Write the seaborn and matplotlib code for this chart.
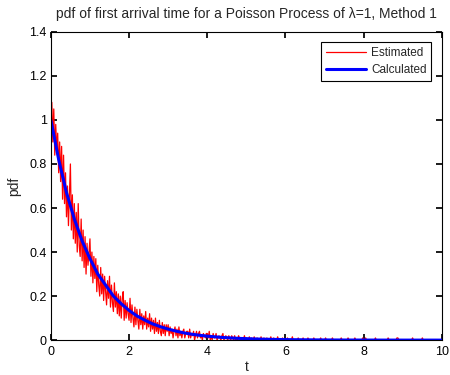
import matplotlib
matplotlib.use("Agg")
import matplotlib.pyplot as plt
import numpy as np
import seaborn as sns

RED = "#FF0000"
BLUE = "#0000FF"

# estimated pdf, one value every 0.025 from t=0 to t=10
est_pdf = [
    1.02, 1.08, 0.90, 1.05, 0.84, 0.98, 0.86, 0.94, 0.76, 0.90, 0.72, 0.88, 0.64, 0.84, 0.62, 0.76, 0.56, 0.70, 0.52, 0.66,
    0.80, 0.50, 0.66, 0.46, 0.62, 0.44, 0.58, 0.40, 0.62, 0.43, 0.38, 0.55, 0.36, 0.50, 0.33, 0.47, 0.30, 0.44, 0.34, 0.40,
    0.46, 0.29, 0.40, 0.26, 0.38, 0.28, 0.37, 0.22, 0.34, 0.25, 0.20, 0.33, 0.21, 0.30, 0.18, 0.29, 0.22, 0.16, 0.27, 0.19,
    0.29, 0.15, 0.25, 0.17, 0.13, 0.26, 0.15, 0.22, 0.12, 0.21, 0.11, 0.20, 0.10, 0.19, 0.22, 0.09, 0.18, 0.10, 0.17, 0.12,
    0.09, 0.19, 0.08, 0.16, 0.10, 0.06, 0.15, 0.07, 0.14, 0.09, 0.05, 0.14, 0.07, 0.12, 0.05, 0.11, 0.07, 0.13, 0.05, 0.10,
    0.06, 0.12, 0.04, 0.10, 0.05, 0.09, 0.03, 0.10, 0.04, 0.08, 0.03, 0.09, 0.04, 0.02, 0.08, 0.03, 0.07, 0.02, 0.07, 0.04,
    0.07, 0.02, 0.06, 0.03, 0.05, 0.01, 0.04, 0.06, 0.02, 0.05, 0.01, 0.06, 0.02, 0.04, 0.01, 0.04, 0.05, 0.01, 0.03, 0.04,
    0.04, 0.01, 0.05, 0.01, 0.03, 0.02, 0.04, 0.00, 0.02, 0.04, 0.01, 0.03, 0.04, 0.01, 0.02, 0.00, 0.03, 0.02, 0.01, 0.03,
    0.03, 0.01, 0.04, 0.00, 0.02, 0.00, 0.03, 0.01, 0.01, 0.03, 0.00, 0.01, 0.02, 0.01, 0.00, 0.02, 0.03, 0.00, 0.01, 0.02,
    0.01, 0.00, 0.02, 0.01, 0.00, 0.02, 0.01, 0.00, 0.02, 0.00, 0.01, 0.00, 0.02, 0.01, 0.00, 0.00, 0.01, 0.00, 0.02, 0.00,
    0.01, 0.00, 0.00, 0.015, 0.00, 0.01, 0.00, 0.00, 0.015, 0.00, 0.00, 0.01, 0.00, 0.00, 0.00, 0.015, 0.00, 0.00, 0.01, 0.00,
    0.00, 0.01, 0.00, 0.00, 0.00, 0.015, 0.00, 0.00, 0.01, 0.00, 0.00, 0.00, 0.015, 0.00, 0.00, 0.00, 0.00, 0.01, 0.00, 0.00,
    0.00, 0.00, 0.01, 0.00, 0.00, 0.00, 0.00, 0.015, 0.00, 0.00, 0.00, 0.00, 0.00, 0.01, 0.00, 0.00, 0.00, 0.00, 0.01, 0.00,
    0.00, 0.00, 0.00, 0.01, 0.00, 0.00, 0.00, 0.00, 0.00, 0.01, 0.00, 0.00, 0.00, 0.00, 0.00, 0.00, 0.01, 0.00, 0.00, 0.00,
    0.00, 0.01, 0.00, 0.00, 0.00, 0.00, 0.00, 0.00, 0.01, 0.00, 0.00, 0.00, 0.00, 0.00, 0.00, 0.00, 0.00, 0.01, 0.00, 0.00,
    0.00, 0.00, 0.00, 0.00, 0.01, 0.00, 0.00, 0.00, 0.00, 0.00, 0.00, 0.01, 0.00, 0.00, 0.00, 0.00, 0.00, 0.00, 0.00, 0.01,
    0.00, 0.00, 0.01, 0.00, 0.00, 0.00, 0.00, 0.00, 0.00, 0.00, 0.00, 0.00, 0.01, 0.00, 0.00, 0.00, 0.00, 0.00, 0.00, 0.00,
    0.00, 0.00, 0.00, 0.00, 0.00, 0.01, 0.00, 0.00, 0.00, 0.00, 0.00, 0.00, 0.00, 0.00, 0.01, 0.01, 0.00, 0.00, 0.00, 0.00,
    0.00, 0.00, 0.00, 0.00, 0.00, 0.00, 0.00, 0.00, 0.00, 0.00, 0.01, 0.00, 0.00, 0.00, 0.00, 0.00, 0.00, 0.00, 0.00, 0.00,
    0.01, 0.00, 0.00, 0.00, 0.00, 0.00, 0.00, 0.00, 0.00, 0.00, 0.00, 0.00, 0.00, 0.00, 0.00, 0.00, 0.00, 0.00, 0.00, 0.00,
    0.00,
]
est_t = np.linspace(0, 10, len(est_pdf))

# calculated pdf, one value every 0.2
calc_pdf = [
    1.00, 0.82, 0.67, 0.55, 0.45, 0.37, 0.30, 0.25, 0.20, 0.165,
    0.135, 0.11, 0.091, 0.074, 0.061, 0.050, 0.041, 0.033, 0.027, 0.022,
    0.018, 0.015, 0.012, 0.010, 0.008, 0.0067, 0.0055, 0.0045, 0.0037, 0.003,
    0.0025, 0.002, 0.0017, 0.0014, 0.0011, 0.0009, 0.0007, 0.0006, 0.0005, 0.0004,
    0.0003, 0.0003, 0.0002, 0.0002, 0.0002, 0.0001, 0.0001, 0.0001, 0.0001, 0.0001,
    0.0000,
]
calc_t = np.linspace(0, 10, len(calc_pdf))

x_ticks = [0, 2, 4, 6, 8, 10]
y_ticks = [0, 0.2, 0.4, 0.6, 0.8, 1, 1.2, 1.4]
y_labels = ["0", "0.2", "0.4", "0.6", "0.8", "1", "1.2", "1.4"]

sns.set_theme(style="ticks")
plt.rcParams.update({
    "font.family": ["Liberation Sans", "DejaVu Sans"],
    "font.size": 9,
    "xtick.direction": "in",
    "ytick.direction": "in",
    "xtick.top": True,
    "ytick.right": True,
    "xtick.major.size": 4,
    "ytick.major.size": 4,
    "axes.edgecolor": "black",
    "axes.linewidth": 0.8,
})

fig = plt.figure(figsize=(4.5, 3.75), dpi=100)
ax = fig.add_axes([0.113, 0.093, 0.869, 0.822])

sns.lineplot(x=est_t, y=est_pdf, ax=ax, color=RED, linewidth=0.9, label="Estimated")
sns.lineplot(x=calc_t, y=calc_pdf, ax=ax, color=BLUE, linewidth=2.2, label="Calculated")

ax.set_xlim(0, 10)
ax.set_ylim(0, 1.4)
ax.set_xticks(x_ticks)
ax.set_yticks(y_ticks)
ax.set_yticklabels(y_labels)
ax.tick_params(axis="x", colors="black", labelsize=9, pad=4)
ax.tick_params(axis="y", colors="black", labelsize=9, pad=3)
ax.set_xlabel("t", fontsize=10, labelpad=2)
ax.set_ylabel("pdf", fontsize=10, labelpad=6)
ax.set_title("pdf of first arrival time for a Poisson Process of λ=1, Method 1", fontsize=10, pad=10)

leg = ax.legend(loc="upper right", fontsize=8.5, fancybox=False, framealpha=1,
                edgecolor="black", borderpad=0.4, handlelength=3.4, handletextpad=0.4,
                labelspacing=0.4, borderaxespad=0.9)
leg.get_frame().set_linewidth(0.8)

fig.savefig("out.png", dpi=100)
